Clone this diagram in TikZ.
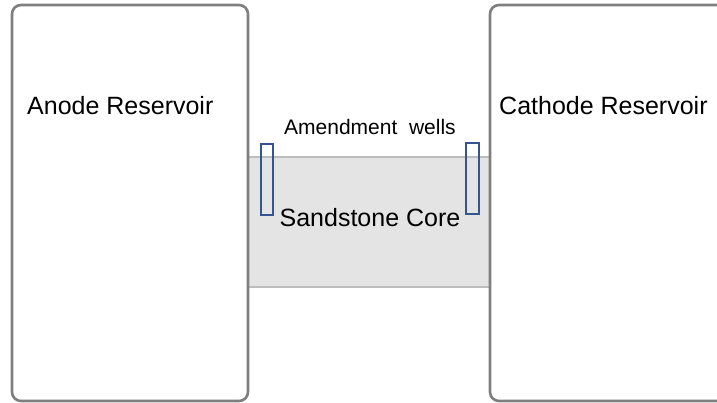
\documentclass[tikz,border=0pt]{standalone}
\usepackage{fontspec}
\setmainfont{Liberation Sans}
\definecolor{boxgray}{HTML}{7F7F7F}
\definecolor{coregray}{HTML}{E4E4E4}
\definecolor{coreline}{HTML}{BDBDBD}
\definecolor{wellblue}{HTML}{34558F}
\begin{document}
\begin{tikzpicture}[x=1pt,y=-1pt,
    reservoir/.style={draw=boxgray,line width=2.6pt,rounded corners=9pt,fill=white,inner sep=0pt},
    core/.style={draw=coreline,line width=1.6pt,fill=coregray,inner sep=0pt},
    well/.style={draw=wellblue,line width=1.8pt,inner sep=0pt},
    biglabel/.style={font=\fontsize{25}{30}\selectfont,inner sep=0pt},
    smalllabel/.style={font=\fontsize{21}{25}\selectfont,inner sep=0pt}]
    \useasboundingbox (0,0) rectangle (717,403);
    \clip (0,0) rectangle (717,403);

    % sandstone core between the reservoirs
    \node[core,minimum width=242,minimum height=130] (core) at (369,222) {};

    \node[reservoir,minimum width=236,minimum height=396] (anode) at (130,203) {};
    \node[reservoir,minimum width=270,minimum height=396] (cathode) at (625,203) {};

    \node[well,minimum width=12,minimum height=71] (wellL) at (267,179.5) {};
    \node[well,minimum width=13,minimum height=71] (wellR) at (472.5,178.5) {};

    \node[biglabel,anchor=west] (anodetext) at (27,106) {Anode Reservoir};
    \node[biglabel,anchor=west] (cathodetext) at (499,106) {Cathode Reservoir};
    \node[smalllabel] (wellstext) at (370,127) {Amendment\ \ wells};
    \node[biglabel] (coretext) at (370,218) {Sandstone Core};
\end{tikzpicture}
\end{document}
